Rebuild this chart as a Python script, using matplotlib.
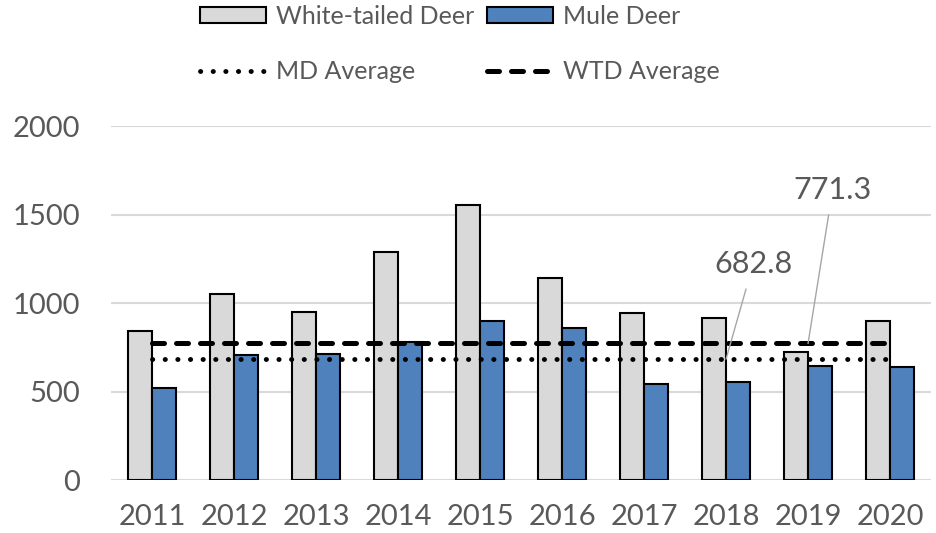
import numpy as np
import matplotlib.pyplot as plt
from matplotlib.lines import Line2D
from matplotlib.patches import Patch

plt.rcParams['font.family'] = ['Lato', 'DejaVu Sans']

# Data
years = ['2011', '2012', '2013', '2014', '2015', '2016', '2017', '2018', '2019', '2020']
white_tailed = [841, 1050, 950, 1290, 1555, 1142, 946, 914, 721, 901]
mule_deer = [520, 706, 710, 779, 900, 860, 541, 554, 642, 638]
md_average = 682.8
wtd_average = 771.3

x = np.arange(len(years))
bar_w = 0.29
text_col = '#595959'
dot_style = (0, (0.05, 2.55))
dash_style = (0, (2.4, 2.4))

fig = plt.figure(figsize=(9.36, 5.33), dpi=100)
ax = fig.add_axes([0.1186, 0.0994, 0.8761, 0.6642])

ax.bar(x - bar_w / 2, white_tailed, bar_w, color='#D9D9D9', edgecolor='black', linewidth=1.5, zorder=2)
ax.bar(x + bar_w / 2, mule_deer, bar_w, color='#4F81BD', edgecolor='black', linewidth=1.5, zorder=2)

# average lines, drawn between first and last category
ax.plot(x, [md_average] * len(x), color='black', linewidth=3.5, linestyle=dot_style,
        dash_capstyle='round', zorder=3)
ax.plot(x, [wtd_average] * len(x), color='black', linewidth=3.6, linestyle=dash_style,
        dash_capstyle='round', zorder=3)

# value callouts
ax.annotate(f'{md_average:.1f}', xy=(7, md_average), xytext=(7.33, 1140),
            ha='center', va='bottom', fontsize=22, color=text_col,
            arrowprops=dict(arrowstyle='-', color='#A6A6A6', lw=1, shrinkA=6, shrinkB=0))
ax.annotate(f'{wtd_average:.1f}', xy=(8, wtd_average), xytext=(8.3, 1560),
            ha='center', va='bottom', fontsize=22, color=text_col,
            arrowprops=dict(arrowstyle='-', color='#A6A6A6', lw=1, shrinkA=6, shrinkB=0))

ax.set_xlim(-0.5, len(years) - 0.5)
ax.set_ylim(0, 2000)
ax.set_yticks([0, 500, 1000, 1500, 2000])
ax.set_xticks(x)
ax.set_xticklabels(years)
ax.tick_params(axis='both', length=0, labelsize=21, labelcolor=text_col)
ax.tick_params(axis='y', pad=22)
ax.tick_params(axis='x', pad=17)
ax.yaxis.grid(True, color='#D9D9D9', linewidth=1.5, zorder=0)
ax.set_axisbelow(True)
for s in ax.spines.values():
    s.set_visible(False)

handles = [
    Patch(facecolor='#D9D9D9', edgecolor='black', linewidth=1.5, label='White-tailed Deer'),
    Line2D([], [], color='black', linewidth=3.5, linestyle=dot_style, dash_capstyle='round', label='MD Average'),
    Patch(facecolor='#4F81BD', edgecolor='black', linewidth=1.5, label='Mule Deer'),
    Line2D([], [], color='black', linewidth=3.6, linestyle=dash_style, dash_capstyle='round', label='WTD Average'),
]
leg = fig.legend(handles=handles, ncol=2, loc='center', bbox_to_anchor=(460 / 936, 1 - 44 / 533),
                 frameon=False, fontsize=18, handlelength=2.65, handleheight=0.6,
                 handletextpad=0.4, columnspacing=0.5, labelspacing=1.3)
for t in leg.get_texts():
    t.set_color(text_col)

fig.savefig('out.png', dpi=100)
